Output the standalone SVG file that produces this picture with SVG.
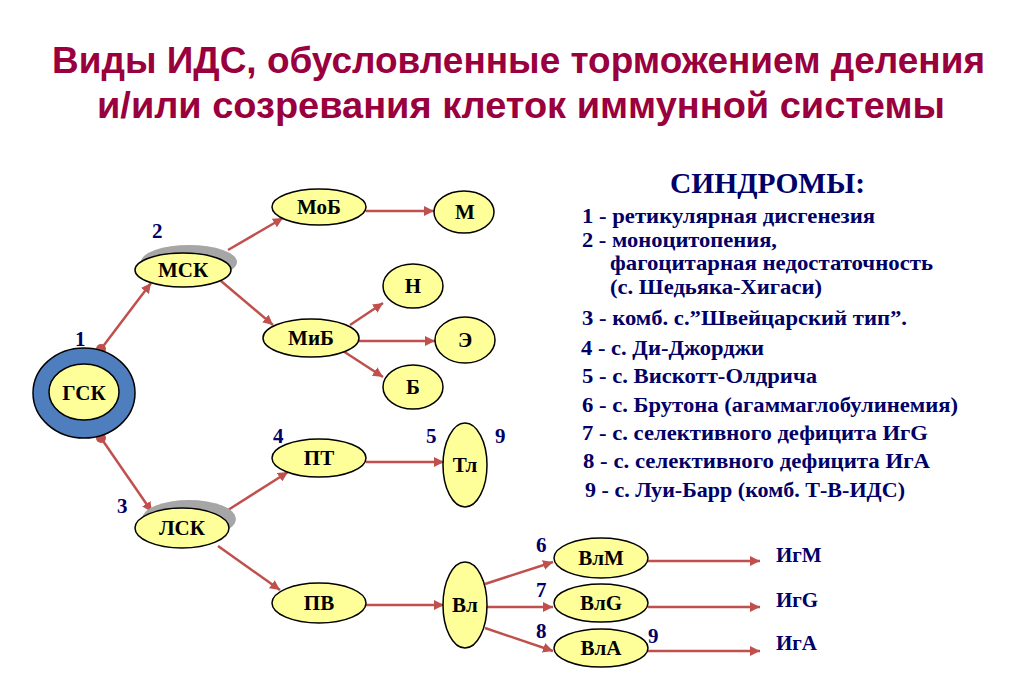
<svg xmlns="http://www.w3.org/2000/svg" width="1024" height="681" viewBox="0 0 1024 681">
<defs>
<style>
.title{font-family:"Liberation Sans",Arial,sans-serif;font-weight:bold;font-size:37px;fill:#99003D}
.node{fill:#FFFF99;stroke:#000;stroke-width:1.5}
.shadow{fill:#A6A6A6}
.lbl{font-family:"Liberation Serif","Times New Roman",serif;font-weight:bold;font-size:21px;fill:#000;text-anchor:middle}
.num{font-family:"Liberation Serif","Times New Roman",serif;font-weight:bold;font-size:21px;fill:#000066}
.ig{font-family:"Liberation Serif","Times New Roman",serif;font-weight:bold;font-size:21px;fill:#000066}
.syn{font-family:"Liberation Serif","Times New Roman",serif;font-weight:bold;font-size:21px;fill:#000066}
.synh{font-family:"Liberation Serif","Times New Roman",serif;font-weight:bold;font-size:29px;fill:#000066}
.con{stroke:#C0504D;stroke-width:2.5;fill:none;marker-end:url(#arr)}
.dot{marker-start:url(#dot)}
</style>
<marker id="arr" viewBox="0 0 10 10" refX="10" refY="5" markerWidth="4" markerHeight="4" orient="auto" markerUnits="strokeWidth">
<path d="M0,0 L10,5 L0,10 z" fill="#C0504D"/>
</marker>
<marker id="dot" viewBox="0 0 10 10" refX="5" refY="5" markerWidth="4" markerHeight="4" markerUnits="strokeWidth">
<circle cx="5" cy="5" r="5" fill="#C0504D"/>
</marker>
</defs>
<rect width="1024" height="681" fill="#fff"/>
<g id="title">
<text class="title" x="52" y="73" textLength="933" lengthAdjust="spacingAndGlyphs">Виды ИДС, обусловленные торможением деления</text>
<text class="title" x="97" y="118" textLength="848" lengthAdjust="spacingAndGlyphs">и/или созревания клеток иммунной системы</text>
</g>
<g id="connectors">
<line class="con dot" x1="101" y1="349" x2="151" y2="283"/>
<line class="con dot" x1="101" y1="438" x2="152" y2="512"/>
<line class="con" x1="228" y1="250" x2="283" y2="218"/>
<line class="con" x1="366" y1="211" x2="434" y2="211"/>
<line class="con" x1="221" y1="281" x2="273" y2="325"/>
<line class="con" x1="350" y1="325" x2="383" y2="303"/>
<line class="con" x1="357" y1="341" x2="435" y2="341"/>
<line class="con" x1="340" y1="349" x2="383" y2="377"/>
<line class="con" x1="228" y1="510" x2="288" y2="472"/>
<line class="con" x1="366" y1="462" x2="444" y2="462"/>
<line class="con" x1="218" y1="546" x2="280" y2="590"/>
<line class="con" x1="366" y1="605" x2="444" y2="605"/>
<line class="con" x1="485" y1="584" x2="553" y2="562"/>
<line class="con" x1="487" y1="607" x2="553" y2="607"/>
<line class="con" x1="485" y1="628" x2="553" y2="651"/>
<line class="con" x1="648" y1="561" x2="760" y2="561"/>
<line class="con" x1="648" y1="607" x2="760" y2="607"/>
<line class="con" x1="648" y1="651" x2="760" y2="651"/>
</g>
<g id="n-gsk">
<ellipse cx="84" cy="393" rx="51" ry="45" fill="#4F7EBE" stroke="#000" stroke-width="1.5"/>
<ellipse class="node" cx="84" cy="392" rx="35" ry="28"/>
<text class="lbl" x="84" y="400">ГСК</text>
<text class="num" x="75" y="346">1</text>
</g>
<g id="n-msk">
<ellipse class="shadow" cx="189" cy="262" rx="48" ry="17"/>
<ellipse class="node" cx="183" cy="270" rx="48" ry="17"/>
<text class="lbl" x="183" y="277">МСК</text>
<text class="num" x="152" y="238">2</text>
</g>
<g id="n-mob">
<ellipse class="node" cx="319" cy="207" rx="47" ry="18"/>
<text class="lbl" x="319" y="214">МоБ</text>
</g>
<g id="n-m">
<ellipse class="node" cx="464" cy="212" rx="30" ry="21"/>
<text class="lbl" x="465" y="219">М</text>
</g>
<g id="n-mib">
<ellipse class="node" cx="311" cy="338" rx="48" ry="19"/>
<text class="lbl" x="311" y="345">МиБ</text>
</g>
<g id="n-n">
<ellipse class="node" cx="413" cy="286" rx="30" ry="22"/>
<text class="lbl" x="413" y="293">Н</text>
</g>
<g id="n-e">
<ellipse class="node" cx="465" cy="340" rx="30" ry="23"/>
<text class="lbl" x="465" y="347">Э</text>
</g>
<g id="n-b">
<ellipse class="node" cx="413" cy="387" rx="30" ry="22"/>
<text class="lbl" x="413" y="394">Б</text>
</g>
<g id="n-lsk">
<ellipse class="shadow" cx="189" cy="519" rx="47" ry="19"/>
<ellipse class="node" cx="182" cy="528" rx="47" ry="20"/>
<text class="lbl" x="182" y="535">ЛСК</text>
<text class="num" x="117" y="513">3</text>
</g>
<g id="n-pt">
<ellipse class="node" cx="319" cy="458" rx="47" ry="19"/>
<text class="lbl" x="319" y="465">ПТ</text>
<text class="num" x="273" y="443">4</text>
</g>
<g id="n-tl">
<ellipse class="node" cx="465" cy="465" rx="22" ry="42"/>
<text class="lbl" x="465" y="472">Тл</text>
<text class="num" x="426" y="443">5</text>
<text class="num" x="495" y="443">9</text>
</g>
<g id="n-pv">
<ellipse class="node" cx="319" cy="603" rx="47" ry="20"/>
<text class="lbl" x="319" y="610">ПВ</text>
</g>
<g id="n-vl">
<ellipse class="node" cx="465" cy="605" rx="22" ry="43"/>
<text class="lbl" x="465" y="612">Вл</text>
</g>
<g id="n-vlm">
<ellipse class="node" cx="601" cy="558" rx="47" ry="20"/>
<text class="lbl" x="601" y="565">ВлМ</text>
<text class="num" x="536" y="552">6</text>
</g>
<g id="n-vlg">
<ellipse class="node" cx="601" cy="603" rx="47" ry="19"/>
<text class="lbl" x="601" y="610">ВлG</text>
<text class="num" x="536" y="597">7</text>
</g>
<g id="n-vla">
<ellipse class="node" cx="601" cy="648" rx="47" ry="19"/>
<text class="lbl" x="601" y="655">ВлА</text>
<text class="num" x="536" y="638">8</text>
<text class="num" x="648" y="643">9</text>
</g>
<g id="igs">
<text class="ig" x="776" y="562">ИгМ</text>
<text class="ig" x="776" y="607">ИгG</text>
<text class="ig" x="776" y="650">ИгА</text>
</g>
<g id="syndromes">
<text class="synh" x="670" y="193" textLength="195" lengthAdjust="spacingAndGlyphs">СИНДРОМЫ:</text>
<text class="syn" x="582" y="223" textLength="293" lengthAdjust="spacingAndGlyphs">1 - ретикулярная дисгенезия</text>
<text class="syn" x="582" y="247" textLength="195" lengthAdjust="spacingAndGlyphs">2 - моноцитопения,</text>
<text class="syn" x="610" y="270" textLength="323" lengthAdjust="spacingAndGlyphs">фагоцитарная недостаточность</text>
<text class="syn" x="610" y="294" textLength="212" lengthAdjust="spacingAndGlyphs">(с. Шедьяка-Хигаси)</text>
<text class="syn" x="582" y="325" textLength="325" lengthAdjust="spacingAndGlyphs">3 - комб. с.”Швейцарский тип”.</text>
<text class="syn" x="581" y="355" textLength="183" lengthAdjust="spacingAndGlyphs">4 - с. Ди-Джорджи</text>
<text class="syn" x="582" y="383" textLength="235" lengthAdjust="spacingAndGlyphs">5 - с. Вискотт-Олдрича</text>
<text class="syn" x="582" y="412" textLength="376" lengthAdjust="spacingAndGlyphs">6 - с. Брутона (агаммаглобулинемия)</text>
<text class="syn" x="582" y="440" textLength="346" lengthAdjust="spacingAndGlyphs">7 - с. селективного дефицита ИгG</text>
<text class="syn" x="583" y="468" textLength="347" lengthAdjust="spacingAndGlyphs">8 - с. селективного дефицита ИгА</text>
<text class="syn" x="585" y="497" textLength="320" lengthAdjust="spacingAndGlyphs">9 - с. Луи-Барр (комб. Т-В-ИДС)</text>
</g>
</svg>
